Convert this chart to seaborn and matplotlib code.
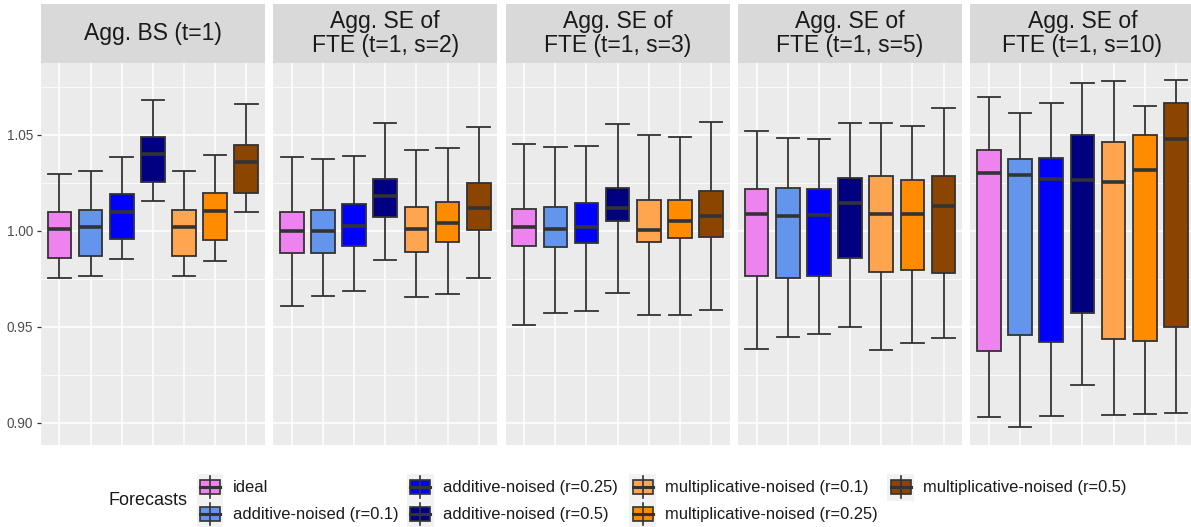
import numpy as np
import pandas as pd
import matplotlib
matplotlib.use("Agg")
import matplotlib.pyplot as plt
import seaborn as sns
from matplotlib.patches import Rectangle
from matplotlib.lines import Line2D

# ---------------- data ----------------
panels = [
    "Agg. BS (t=1)",
    "Agg. SE of\nFTE (t=1, s=2)",
    "Agg. SE of\nFTE (t=1, s=3)",
    "Agg. SE of\nFTE (t=1, s=5)",
    "Agg. SE of\nFTE (t=1, s=10)",
]
forecasts = [
    "ideal",
    "additive-noised (r=0.1)",
    "additive-noised (r=0.25)",
    "additive-noised (r=0.5)",
    "multiplicative-noised (r=0.1)",
    "multiplicative-noised (r=0.25)",
    "multiplicative-noised (r=0.5)",
]
colors = ["#EE82EE", "#6495ED", "#0000FF", "#000080", "#FFA54F", "#FF8C00", "#8B4500"]

# rows = panels, columns = forecasts
whisker_high = [
    [1.0297, 1.0311, 1.0385, 1.0681, 1.0313, 1.0392, 1.0658],
    [1.0384, 1.0373, 1.0391, 1.0559, 1.0422, 1.0432, 1.0538],
    [1.0453, 1.0436, 1.0441, 1.0556, 1.0500, 1.0488, 1.0564],
    [1.0517, 1.0481, 1.0479, 1.0561, 1.0561, 1.0545, 1.0639],
    [1.0698, 1.0611, 1.0665, 1.0771, 1.0778, 1.0648, 1.0783],
]
q3 = [
    [1.0095, 1.0109, 1.0193, 1.0488, 1.0109, 1.0194, 1.0444],
    [1.0095, 1.0109, 1.0139, 1.0271, 1.0125, 1.0151, 1.0248],
    [1.0113, 1.0125, 1.0144, 1.0222, 1.0161, 1.0158, 1.0208],
    [1.0215, 1.0220, 1.0217, 1.0274, 1.0286, 1.0264, 1.0283],
    [1.0418, 1.0373, 1.0377, 1.0498, 1.0460, 1.0498, 1.0667],
]
median = [
    [1.0007, 1.0021, 1.0099, 1.0398, 1.0021, 1.0102, 1.0356],
    [1.0000, 1.0000, 1.0023, 1.0182, 1.0007, 1.0042, 1.0120],
    [1.0021, 1.0007, 1.0021, 1.0118, 1.0003, 1.0050, 1.0075],
    [1.0089, 1.0076, 1.0082, 1.0144, 1.0085, 1.0085, 1.0127],
    [1.0302, 1.0292, 1.0269, 1.0264, 1.0252, 1.0314, 1.0477],
]
q1 = [
    [0.9859, 0.9870, 0.9957, 1.0252, 0.9870, 0.9951, 1.0194],
    [0.9884, 0.9884, 0.9920, 1.0073, 0.9887, 0.9941, 1.0002],
    [0.9918, 0.9915, 0.9934, 1.0049, 0.9941, 0.9960, 0.9969],
    [0.9764, 0.9753, 0.9762, 0.9858, 0.9785, 0.9795, 0.9781],
    [0.9375, 0.9455, 0.9422, 0.9573, 0.9436, 0.9424, 0.9497],
]
whisker_low = [
    [0.9752, 0.9766, 0.9851, 1.0156, 0.9764, 0.9840, 1.0097],
    [0.9609, 0.9661, 0.9686, 0.9845, 0.9655, 0.9668, 0.9755],
    [0.9507, 0.9569, 0.9582, 0.9677, 0.9563, 0.9563, 0.9585],
    [0.9385, 0.9446, 0.9464, 0.9498, 0.9377, 0.9415, 0.9441],
    [0.9030, 0.8976, 0.9036, 0.9198, 0.9038, 0.9043, 0.9050],
]
y_ticks = [0.90, 0.95, 1.00, 1.05]
y_tick_labels = ["0.90", "0.95", "1.00", "1.05"]
legend_title = "Forecasts"

# long table: the five summary values per box (their quartiles equal the summary)
rows = []
for pi, p in enumerate(panels):
    for fi, f in enumerate(forecasts):
        for arr in (whisker_low, q1, median, q3, whisker_high):
            rows.append({"panel": p, "forecast": f, "value": arr[pi][fi]})
df = pd.DataFrame(rows)

# ---------------- style ----------------
plt.rcParams["font.family"] = ["Liberation Sans", "DejaVu Sans"]
W, H = 1191, 527
fig = plt.figure(figsize=(W / 100, H / 100), dpi=100, facecolor="white")

def fx(px):
    return px / W

def fy(py):
    return 1 - py / H

plot_top, plot_bot = 62.7, 445.0
strip_top = 4.0
panel_w = 224.3
panel_step = 232.4
left0 = 40.7
edge = "#333333"

for pi, p in enumerate(panels):
    left = left0 + pi * panel_step
    ax = fig.add_axes([fx(left), fy(plot_bot), fx(panel_w), (plot_bot - plot_top) / H])
    sub = df[df["panel"] == p]
    sns.boxplot(
        data=sub, x="forecast", y="value", hue="forecast",
        order=forecasts, hue_order=forecasts, palette=colors,
        saturation=1, width=0.76, whis=(0, 100), linecolor=edge,
        linewidth=1.3, legend=False, ax=ax,
        medianprops=dict(linewidth=2.6, color=edge),
        capwidths=0.72,
    )
    ax.set_facecolor("#EBEBEB")
    ax.set_xlim(-0.6, 6.6)
    ax.set_ylim(0.8884, 1.0875)
    ax.set_xticks(range(len(forecasts)))
    ax.set_xticklabels([])
    ax.tick_params(axis="x", length=0)
    ax.set_yticks(y_ticks)
    ax.set_yticks([0.925, 0.975, 1.025, 1.075], minor=True)
    if pi == 0:
        ax.set_yticklabels(y_tick_labels)
        ax.tick_params(axis="y", which="major", length=3.0, width=0.9, color=edge,
                       labelsize=9.8, labelcolor="#4D4D4D", pad=2.4)
    else:
        ax.set_yticklabels([])
        ax.tick_params(axis="y", which="major", length=0)
    ax.tick_params(axis="y", which="minor", length=0)
    ax.grid(True, which="major", color="white", linewidth=1.1)
    ax.grid(True, which="minor", axis="y", color="white", linewidth=0.55)
    ax.set_axisbelow(True)
    for s in ax.spines.values():
        s.set_visible(False)
    ax.set_xlabel("")
    ax.set_ylabel("")

    sax = fig.add_axes([fx(left), fy(plot_top), fx(panel_w), (plot_top - strip_top) / H])
    sax.set_facecolor("#D9D9D9")
    sax.set_xticks([])
    sax.set_yticks([])
    for s in sax.spines.values():
        s.set_visible(False)
    sax.text(0.5, 0.5, p, ha="center", va="center", fontsize=16.5,
             color="#1A1A1A", linespacing=1.05, transform=sax.transAxes)

# ---------------- legend ----------------
lax = fig.add_axes([0, 0, 1, 1], zorder=-1)
lax.set_xlim(0, W)
lax.set_ylim(H, 0)
lax.axis("off")
lax.text(108, 500.5, legend_title, ha="left", va="center", fontsize=13, color="#1A1A1A")
key_lefts = [196.7, 407.0, 629.3, 887.3]
row_centers = [487.3, 514.0]
kw, kh = 26.7, 26.7
for i, (f, c) in enumerate(zip(forecasts, colors)):
    col, row = i // 2, i % 2
    x0 = key_lefts[col]
    yc = row_centers[row]
    lax.add_patch(Rectangle((x0, yc - kh / 2), kw, kh, facecolor="#F2F2F2", edgecolor="none"))
    xc = x0 + kw / 2
    lax.add_line(Line2D([xc, xc], [yc - 11, yc + 11], color=edge, linewidth=1.2))
    lax.add_patch(Rectangle((x0 + 3.3, yc - 7), 20, 14, facecolor=c, edgecolor=edge, linewidth=1.2))
    lax.add_line(Line2D([x0 + 3.3, x0 + 23.3], [yc, yc], color=edge, linewidth=2.2))
    lax.text(x0 + 36, yc, f, ha="left", va="center", fontsize=11.9, color="#1A1A1A")

fig.savefig("out.png", dpi=100, facecolor="white")
